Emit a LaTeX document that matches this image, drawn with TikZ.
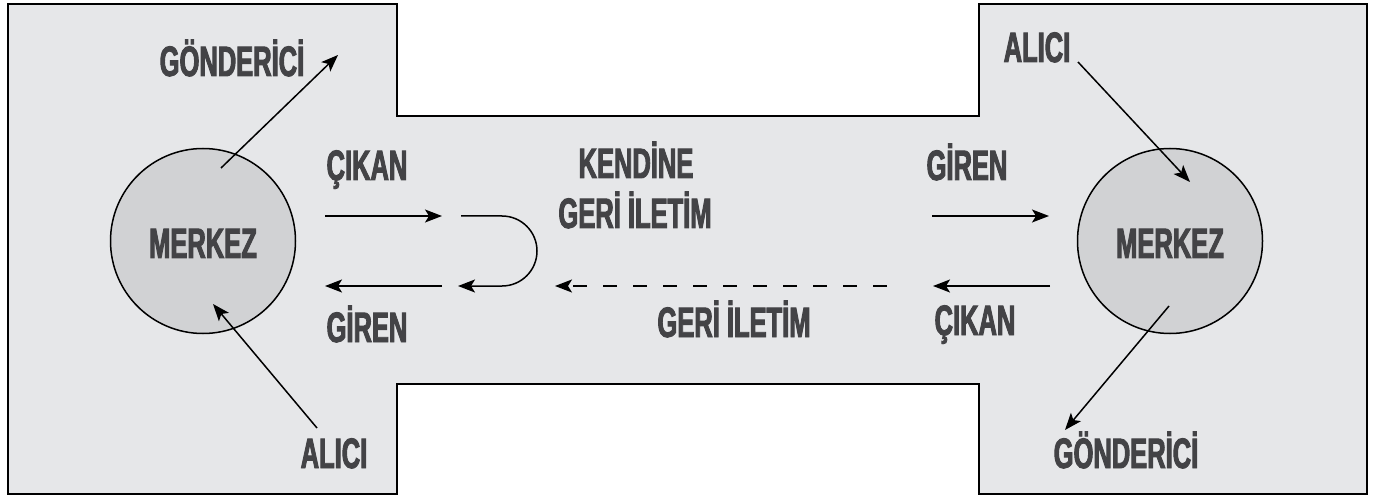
\documentclass[tikz,border=0pt]{standalone}
\usepackage{fontspec}
\newfontfamily\lblfont{Liberation Sans Bold}[FakeStretch=0.6, FakeBold=2.2]
\usetikzlibrary{arrows.meta}
\definecolor{bgfill}{HTML}{E6E7E9}
\definecolor{circfill}{HTML}{D1D2D4}
\definecolor{txtcol}{HTML}{434346}
\begin{document}
\begin{tikzpicture}[x=1pt,y=-1pt,
  lbl/.style={font=\lblfont\fontsize{42.5}{50}\selectfont, text=txtcol, inner sep=0pt, anchor=base},
  hub/.style={circle, draw=black, line width=1.5pt, fill=circfill, minimum size=185pt, inner sep=0pt},
  arr/.style={line width=1.5pt, -{Stealth[length=17pt,width=13pt,inset=4pt]}},
  dasharr/.style={arr, dash pattern=on 14pt off 16pt}]
\useasboundingbox (0,0) rectangle (1381,497);
% outline shape
\draw[line width=2pt, fill=bgfill]
  (8,4) -- (397,4) -- (397,116) -- (979,116) -- (979,4) -- (1367,4) -- (1367,494)
  -- (979,494) -- (979,384) -- (397,384) -- (397,494) -- (8,494) -- cycle;
% hubs
\node[hub] (lm) at (203,241) {};
\node[hub] (rm) at (1170,241) {};
\node[lbl] (lmt) at (203,258) {MERKEZ};
\node[lbl] (rmt) at (1170,258) {MERKEZ};
% labels
\node[lbl] (lgon) at (232,76) {GÖNDERİCİ};
\node[lbl] (lcik) at (367,180) {ÇIKAN};
\node[lbl] (lgir) at (367,342) {GİREN};
\node[lbl] (lali) at (334,468) {ALICI};
\node[lbl] (ken) at (636,178) {KENDİNE};
\node[lbl] (geri1) at (635,228) {GERİ İLETİM};
\node[lbl] (geri2) at (734,337) {GERİ İLETİM};
\node[lbl] (rgir) at (967,180) {GİREN};
\node[lbl] (rcik) at (975,335) {ÇIKAN};
\node[lbl] (rali) at (1037,62) {ALICI};
\node[lbl] (rgon) at (1126,468) {GÖNDERİCİ};
% connector endpoints
\coordinate (lgs) at (221,168); \coordinate (lge) at (338,55);
\coordinate (las) at (317,428); \coordinate (lae) at (213,304);
\coordinate (ras) at (1078,62); \coordinate (rae) at (1190,182);
\coordinate (rgs) at (1169,306); \coordinate (rge) at (1065,430);
\coordinate (lo1) at (325,216); \coordinate (lo2) at (442,216);
\coordinate (li1) at (442,286); \coordinate (li2) at (325,286);
\coordinate (lp1) at (461,216); \coordinate (lp2) at (458,286);
\coordinate (ds1) at (887,286); \coordinate (ds2) at (555,286);
\coordinate (ri1) at (932,216); \coordinate (ri2) at (1049,216);
\coordinate (ro1) at (1050,286); \coordinate (ro2) at (933,286);
% connectors
\draw[arr] (lgs) -- (lge);
\draw[arr] (las) -- (lae);
\draw[arr] (ras) -- (rae);
\draw[arr] (rgs) -- (rge);
\draw[arr] (lo1) -- (lo2);
\draw[arr] (li1) -- (li2);
\draw[arr] (lp1) -- (502,216) arc (-90:90:35) -- (lp2);
\draw[dasharr] (ds1) -- (ds2);
\draw[arr] (ri1) -- (ri2);
\draw[arr] (ro1) -- (ro2);
\end{tikzpicture}
\end{document}
